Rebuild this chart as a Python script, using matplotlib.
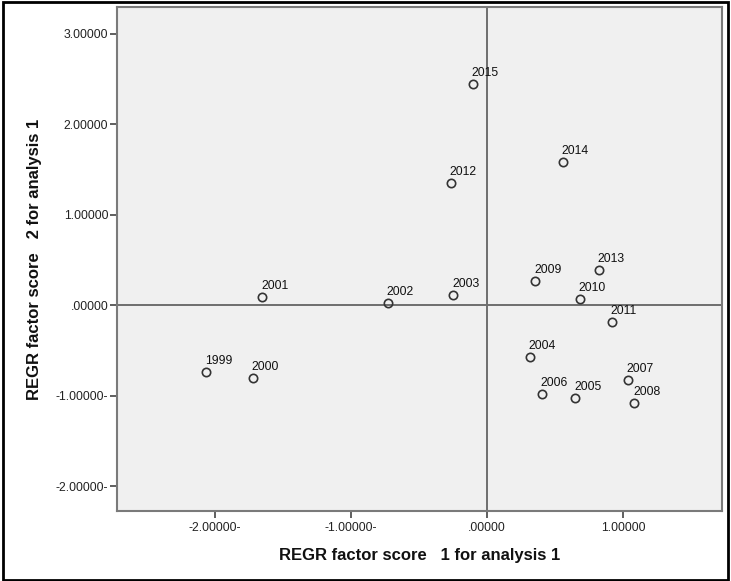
import matplotlib
matplotlib.use("Agg")
import matplotlib.pyplot as plt
from matplotlib.patches import Rectangle

years = ["1999", "2000", "2001", "2002", "2003", "2004", "2005", "2006", "2007",
         "2008", "2009", "2010", "2011", "2012", "2013", "2014", "2015"]
factor1 = [-2.068, -1.723, -1.654, -0.732, -0.249, 0.314, 0.647, 0.402, 1.032,
           1.081, 0.353, 0.679, 0.915, -0.269, 0.819, 0.554, -0.107]
factor2 = [-0.739, -0.808, 0.088, 0.019, 0.107, -0.570, -1.025, -0.985, -0.827,
           -1.084, 0.268, 0.066, -0.184, 1.353, 0.382, 1.580, 2.444]

xticks = [-2, -1, 0, 1]
xticklabels = ["-2.00000-", "-1.00000-", ".00000", "1.00000"]
yticks = [-2, -1, 0, 1, 2, 3]
yticklabels = ["-2.00000-", "-1.00000-", ".00000", "1.00000", "2.00000", "3.00000"]

xlabel = "REGR factor score   1 for analysis 1"
ylabel = "REGR factor score   2 for analysis 1"

W, H = 731, 581
fig = plt.figure(figsize=(W / 100, H / 100), dpi=100)
fig.patch.set_facecolor("white")

left, right, top, bottom = 117.3, 721.7, 7.3, 511.0
ax = fig.add_axes([left / W, 1 - bottom / H, (right - left) / W, (bottom - top) / H])
ax.set_facecolor("#F0F0F0")

ax.set_xlim(-2.72, 1.724)
ax.set_ylim(-2.276, 3.29)

ax.axhline(0, color="#6E6E6E", lw=1.4, zorder=1)
ax.axvline(0, color="#6E6E6E", lw=1.4, zorder=1)

ax.plot(factor1, factor2, linestyle="none", marker="o", markersize=6,
        markerfacecolor="none", markeredgecolor="#333333", markeredgewidth=1.2, zorder=3)

for yr, x, y in zip(years, factor1, factor2):
    ax.annotate(yr, (x, y), xytext=(-1, 8), textcoords="offset pixels",
                ha="left", va="baseline", fontsize=8.8, family="Liberation Sans",
                color="#111111", zorder=4)

ax.set_xticks(xticks)
ax.set_xticklabels(xticklabels)
ax.set_yticks(yticks)
ax.set_yticklabels(yticklabels)
ax.tick_params(axis="both", direction="out", length=5, width=1.2, color="#444444",
               labelsize=8.8, labelcolor="#222222")
ax.tick_params(axis="y", pad=1.5)
ax.tick_params(axis="x", pad=3)
for lab in ax.get_xticklabels() + ax.get_yticklabels():
    lab.set_family("Liberation Sans")

for sp in ax.spines.values():
    sp.set_color("#7A7A7A")
    sp.set_linewidth(1.5)

fig.text((left + right) / 2 / W, 1 - 555.5 / H, xlabel, ha="center", va="center",
         fontsize=12, fontweight="bold", family="Liberation Sans", color="#111111")
fig.text(35 / W, 1 - 259.5 / H, ylabel, ha="center", va="center", rotation=90,
         fontsize=12, fontweight="bold", family="Liberation Sans", color="#111111")

fig.patches.append(Rectangle((3 / W, 1 - 579.5 / H), 725 / W, 577.5 / H,
                             transform=fig.transFigure, fill=False,
                             edgecolor="black", linewidth=2, zorder=10))

fig.savefig("out.png", dpi=100)
